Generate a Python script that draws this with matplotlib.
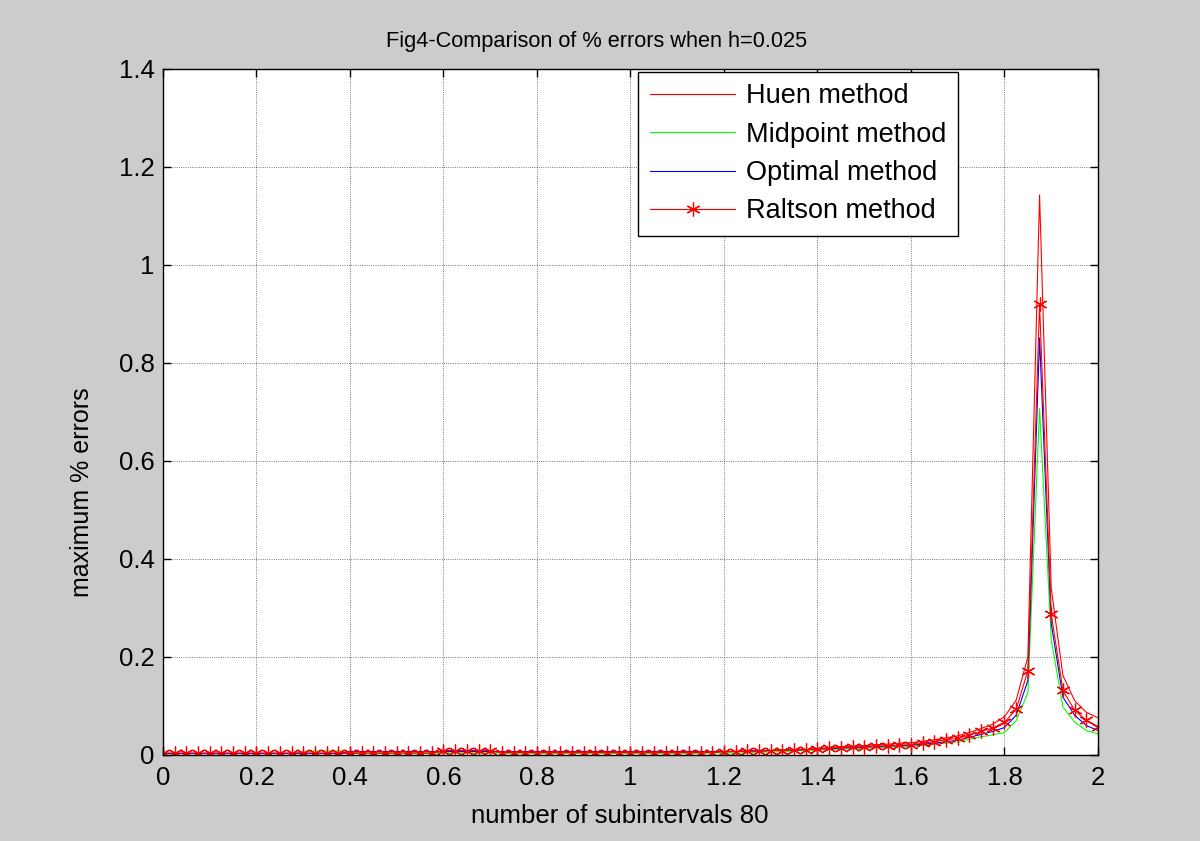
import matplotlib

matplotlib.use("Agg")
import matplotlib.pyplot as plt
import numpy as np
from matplotlib.ticker import FormatStrFormatter

# grid: h = 0.025 over [0, 2] -> 81 points
h = 0.025
x = np.arange(81) * h

huen = [
    0.003, 0.003, 0.003, 0.003, 0.003, 0.003, 0.003, 0.003, 0.003, 0.003,
    0.003, 0.003, 0.003, 0.003, 0.003, 0.003, 0.003, 0.003, 0.003, 0.003,
    0.003, 0.003, 0.003, 0.003, 0.007, 0.007, 0.007, 0.007, 0.007, 0.004,
    0.004, 0.004, 0.004, 0.004, 0.004, 0.004, 0.004, 0.004, 0.004, 0.004,
    0.004, 0.004, 0.004, 0.004, 0.004, 0.004, 0.004, 0.005, 0.006, 0.007,
    0.008, 0.008, 0.009, 0.010, 0.010, 0.011, 0.013, 0.015, 0.017, 0.018,
    0.019, 0.021, 0.022, 0.024, 0.025, 0.028, 0.031, 0.035, 0.039, 0.046,
    0.054, 0.063, 0.078, 0.112, 0.200, 1.143, 0.340, 0.162, 0.111, 0.087,
    0.076,
]
midpoint = [
    0.003, 0.003, 0.003, 0.003, 0.003, 0.003, 0.003, 0.003, 0.003, 0.003,
    0.003, 0.003, 0.006, 0.008, 0.008, 0.008, 0.005, 0.004, 0.004, 0.004,
    0.004, 0.004, 0.004, 0.004, 0.004, 0.004, 0.004, 0.004, 0.004, 0.004,
    0.004, 0.004, 0.004, 0.004, 0.004, 0.004, 0.004, 0.004, 0.004, 0.004,
    0.004, 0.004, 0.004, 0.004, 0.004, 0.004, 0.004, 0.004, 0.004, 0.004,
    0.005, 0.006, 0.006, 0.007, 0.008, 0.009, 0.010, 0.011, 0.012, 0.013,
    0.014, 0.015, 0.016, 0.017, 0.018, 0.020, 0.022, 0.024, 0.027, 0.032,
    0.037, 0.041, 0.046, 0.070, 0.127, 0.707, 0.235, 0.098, 0.067, 0.050,
    0.043,
]
optimal = [
    0.003, 0.003, 0.003, 0.003, 0.003, 0.003, 0.003, 0.003, 0.003, 0.003,
    0.003, 0.003, 0.003, 0.003, 0.003, 0.003, 0.007, 0.007, 0.007, 0.007,
    0.007, 0.007, 0.007, 0.007, 0.007, 0.007, 0.007, 0.007, 0.007, 0.007,
    0.007, 0.007, 0.007, 0.007, 0.007, 0.007, 0.007, 0.007, 0.007, 0.007,
    0.007, 0.007, 0.007, 0.007, 0.007, 0.007, 0.007, 0.007, 0.007, 0.007,
    0.008, 0.008, 0.009, 0.010, 0.010, 0.011, 0.012, 0.013, 0.014, 0.015,
    0.016, 0.017, 0.018, 0.019, 0.020, 0.022, 0.024, 0.027, 0.030, 0.036,
    0.042, 0.048, 0.056, 0.081, 0.152, 0.851, 0.268, 0.118, 0.081, 0.060,
    0.050,
]
raltson = [
    0.004, 0.004, 0.004, 0.004, 0.004, 0.004, 0.004, 0.004, 0.004, 0.004,
    0.004, 0.004, 0.004, 0.004, 0.004, 0.004, 0.004, 0.004, 0.004, 0.004,
    0.004, 0.004, 0.004, 0.004, 0.009, 0.009, 0.009, 0.009, 0.009, 0.005,
    0.005, 0.005, 0.005, 0.005, 0.005, 0.005, 0.005, 0.005, 0.005, 0.005,
    0.005, 0.005, 0.005, 0.005, 0.005, 0.005, 0.005, 0.005, 0.007, 0.007,
    0.008, 0.008, 0.009, 0.009, 0.010, 0.011, 0.012, 0.014, 0.015, 0.016,
    0.017, 0.018, 0.019, 0.020, 0.021, 0.024, 0.027, 0.031, 0.034, 0.041,
    0.048, 0.055, 0.067, 0.093, 0.172, 0.920, 0.287, 0.132, 0.091, 0.071,
    0.058,
]

xticks = [0, 0.2, 0.4, 0.6, 0.8, 1, 1.2, 1.4, 1.6, 1.8, 2]
yticks = [0, 0.2, 0.4, 0.6, 0.8, 1, 1.2, 1.4]

plt.rcParams["font.family"] = ["Liberation Sans", "DejaVu Sans"]

fig = plt.figure(figsize=(12, 8.41), dpi=100, facecolor="#cccccc")
ax = fig.add_axes([0.1358, 0.1023, 0.7792, 0.8157])
ax.set_facecolor("white")

ax.plot(x, huen, color="#ff0000", lw=0.8, label="Huen method")
ax.plot(x, midpoint, color="#00ff00", lw=0.8, label="Midpoint method")
ax.plot(x, optimal, color="#0000ff", lw=0.8, label="Optimal method")
ax.plot(x, raltson, color="#ff0000", lw=0.8, marker=(6, 2, 0),
        markersize=10, markeredgewidth=0.9, label="Raltson method")

ax.set_xlim(0, 2)
ax.set_ylim(0, 1.4)
ax.set_xticks(xticks)
ax.set_yticks(yticks)
ax.xaxis.set_major_formatter(FormatStrFormatter("%g"))
ax.yaxis.set_major_formatter(FormatStrFormatter("%g"))
ax.tick_params(direction="in", top=True, right=True, length=6, width=1,
               labelsize=18.5)
ax.tick_params(axis="x", pad=8)
ax.tick_params(axis="y", pad=6)
ax.grid(True, color="black", ls=":", lw=0.6, alpha=0.7)
for s in ax.spines.values():
    s.set_linewidth(1)

ax.set_title("Fig4-Comparison of % errors when h=0.025", fontsize=15.7,
             pad=16, x=0.464)
ax.set_xlabel("number of subintervals 80", fontsize=18.6, labelpad=10, x=0.488)
ax.set_ylabel("maximum % errors", fontsize=18, labelpad=18, y=0.383)

leg = ax.legend(loc="upper right", bbox_to_anchor=(0.850, 0.996),
                borderaxespad=0, fontsize=19.5, handlelength=3.15,
                fancybox=False, framealpha=1, edgecolor="black",
                labelspacing=0.46, borderpad=0.42, handletextpad=0.4)
leg.get_frame().set_linewidth(1)

fig.savefig("out.png", dpi=100, facecolor=fig.get_facecolor())
